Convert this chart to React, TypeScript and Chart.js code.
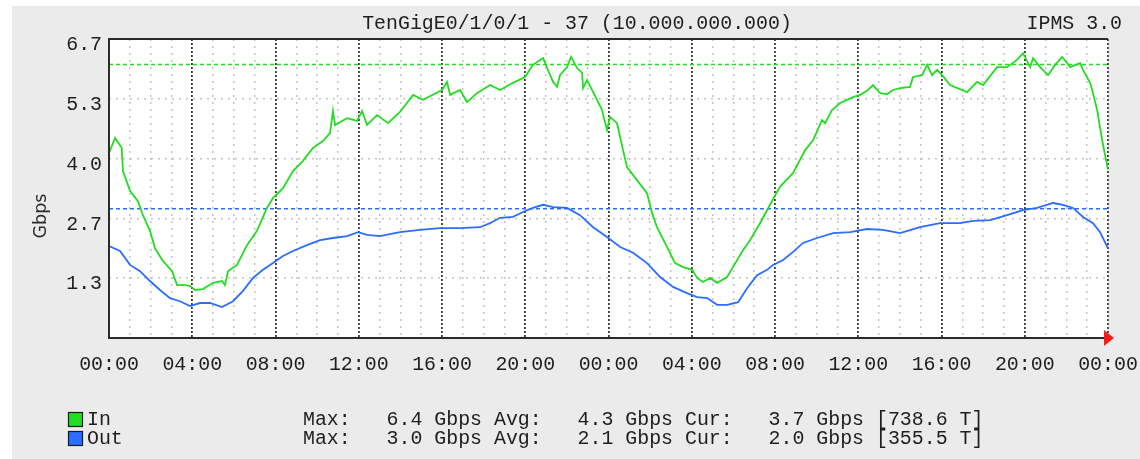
import React, { useEffect, useRef } from "react";
import { Chart, registerables } from "chart.js";

Chart.register(...registerables);

// ---- data (hours since first 00:00, Gbps) ----
const inHours = [
  0.0, 0.29, 0.61, 0.67, 1.01, 1.39, 1.63, 1.97, 2.21, 2.59, 3.03, 3.27, 3.65, 3.89, 4.13, 4.52, 5.0, 5.43, 5.57, 5.72,
  6.15, 6.63, 7.11, 7.59, 7.88, 8.36, 8.84, 9.32, 9.8, 10.28, 10.62, 10.76, 10.86, 11.44, 11.92, 12.16, 12.4, 12.88, 13.41, 13.98,
  14.61, 15.09, 16.0, 16.24, 16.39, 16.87, 17.2, 17.68, 18.31, 18.79, 19.41, 19.99, 20.37, 20.71, 20.86, 21.05, 21.34, 21.53, 21.67, 22.01,
  22.2, 22.49, 22.73, 22.78, 22.97, 23.45, 23.69, 23.93, 24.07, 24.41, 24.7, 24.89, 25.37, 25.85, 26.09, 26.33, 26.81, 27.2, 27.58, 28.02,
  28.26, 28.54, 28.88, 29.22, 29.7, 29.98, 30.47, 30.8, 31.28, 31.91, 32.24, 32.87, 33.45, 33.83, 34.26, 34.41, 34.74, 35.13, 35.75, 36.09,
  36.47, 36.71, 37.05, 37.39, 37.67, 38.01, 38.49, 38.63, 39.07, 39.31, 39.55, 39.79, 40.03, 40.41, 40.89, 41.23, 41.71, 42.0, 42.67, 43.15,
  43.63, 43.92, 44.26, 44.4, 44.74, 45.12, 45.46, 45.8, 46.18, 46.66, 46.8, 47.14, 47.28, 47.48, 47.72, 48.0,
];
const inValues = [
  4.12, 4.46, 4.24, 3.72, 3.28, 3.05, 2.74, 2.39, 2.0, 1.72, 1.49, 1.18, 1.18, 1.16, 1.07, 1.09, 1.23, 1.27, 1.18, 1.49,
  1.63, 2.07, 2.39, 2.9, 3.12, 3.34, 3.72, 3.95, 4.24, 4.39, 4.57, 5.06, 4.75, 4.9, 4.84, 5.06, 4.75, 4.97, 4.79, 5.04,
  5.42, 5.31, 5.53, 5.71, 5.42, 5.53, 5.26, 5.46, 5.64, 5.53, 5.69, 5.82, 6.09, 6.2, 6.24, 6.02, 5.71, 5.6, 5.86, 6.04,
  6.27, 6.02, 5.91, 5.57, 5.75, 5.31, 5.08, 4.64, 4.93, 4.79, 4.19, 3.81, 3.52, 3.23, 2.79, 2.47, 2.03, 1.67, 1.58, 1.52,
  1.34, 1.25, 1.34, 1.23, 1.36, 1.58, 1.96, 2.18, 2.56, 3.1, 3.37, 3.68, 4.19, 4.41, 4.86, 4.79, 5.08, 5.24, 5.37, 5.42,
  5.53, 5.64, 5.46, 5.44, 5.53, 5.57, 5.6, 5.82, 5.86, 6.09, 5.86, 5.98, 5.86, 5.64, 5.55, 5.48, 5.71, 5.64, 6.04, 6.04,
  6.2, 6.35, 6.04, 6.24, 6.04, 5.86, 6.09, 6.27, 6.04, 6.13, 5.98, 5.69, 5.46, 5.08, 4.41, 3.75,
];
const outHours = [
  0.0, 0.53, 1.01, 1.49, 1.97, 2.45, 2.93, 3.41, 3.89, 4.37, 4.85, 5.43, 5.96, 6.44, 6.92, 7.4, 7.88, 8.36, 8.84, 9.51,
  10.14, 10.76, 11.44, 11.97, 12.4, 13.02, 13.98, 14.94, 15.91, 16.87, 17.83, 18.31, 18.79, 19.41, 19.89, 20.37, 20.86, 21.34, 22.01, 22.63,
  23.26, 23.93, 24.56, 25.18, 25.85, 26.48, 27.1, 27.77, 28.26, 28.74, 29.22, 29.7, 30.23, 30.66, 31.14, 31.62, 31.91, 32.39, 32.87, 33.35,
  34.02, 34.79, 35.61, 36.42, 37.19, 38.01, 38.97, 39.93, 40.89, 41.52, 42.34, 43.15, 43.92, 44.59, 45.36, 45.84, 46.32, 46.8, 47.28, 47.62,
  48.0,
];
const outValues = [
  2.05, 1.94, 1.63, 1.49, 1.27, 1.07, 0.89, 0.82, 0.71, 0.78, 0.78, 0.69, 0.82, 1.05, 1.34, 1.52, 1.67, 1.83, 1.94, 2.07,
  2.18, 2.23, 2.27, 2.36, 2.3, 2.27, 2.36, 2.41, 2.45, 2.45, 2.47, 2.56, 2.68, 2.7, 2.81, 2.9, 2.97, 2.92, 2.9, 2.74,
  2.47, 2.25, 2.03, 1.9, 1.67, 1.36, 1.14, 1.0, 0.91, 0.89, 0.74, 0.74, 0.8, 1.11, 1.4, 1.52, 1.63, 1.74, 1.92, 2.12,
  2.23, 2.34, 2.36, 2.43, 2.41, 2.34, 2.47, 2.56, 2.56, 2.61, 2.63, 2.74, 2.85, 2.9, 3.01, 2.97, 2.9, 2.7, 2.56, 2.36,
  2.0,
];
const inThreshold = 6.1;
const outThreshold = 2.88;

const xMin = 0;
const xMax = 48;
const xTickLabels = [
  "00:00", "04:00", "08:00", "12:00", "16:00", "20:00", "00:00", "04:00", "08:00", "12:00", "16:00", "20:00", "00:00",
];
const yMax = 6.667;
const yTickValues = [1.333, 2.667, 4.0, 5.333, 6.667];
const yTickLabels = ["1.3", "2.7", "4.0", "5.3", "6.7"];

const titleText = "TenGigE0/1/0/1 - 37 (10.000.000.000)";
const brandText = "IPMS 3.0";
const yAxisTitle = "Gbps";
const legendNames = ["In", "Out"];
const legendStats = [
  "Max:   6.4 Gbps Avg:   4.3 Gbps Cur:   3.7 Gbps [738.6 T]",
  "Max:   3.0 Gbps Avg:   2.1 Gbps Cur:   2.0 Gbps [355.5 T]",
];

const IN_COLOR = "#22dd22";
const OUT_COLOR = "#2a6dff";
const MONO = '"Liberation Mono", "DejaVu Sans Mono", monospace';
const TEXT = "#1e1e1e";

const W = 1140;
const H = 459;
const PLOT_LEFT = 109;
const PLOT_TOP = 39;
const PLOT_RIGHT = 1108;
const PLOT_BOTTOM = 338;

const decorPlugin = {
  id: "decor",
  beforeDraw(chart: any) {
    const { ctx, chartArea: a } = chart;
    ctx.save();
    ctx.fillStyle = "#ffffff";
    ctx.fillRect(0, 0, W, H);
    ctx.fillStyle = "#ebebeb";
    ctx.fillRect(12, 6, W - 12, H - 6);
    ctx.fillStyle = "#ffffff";
    ctx.fillRect(a.left, a.top, a.right - a.left, a.bottom - a.top);
    ctx.restore();
  },
  afterDraw(chart: any) {
    const { ctx, chartArea: a } = chart;
    ctx.save();
    // frame
    ctx.strokeStyle = "#2b2b2b";
    ctx.lineWidth = 2;
    ctx.setLineDash([]);
    ctx.beginPath();
    ctx.moveTo(a.right, a.top);
    ctx.lineTo(a.left, a.top);
    ctx.lineTo(a.left, a.bottom);
    ctx.lineTo(a.right, a.bottom);
    ctx.stroke();
    // arrow
    ctx.fillStyle = "#ff1a1a";
    ctx.beginPath();
    ctx.moveTo(a.right - 4, a.bottom - 8);
    ctx.lineTo(a.right + 6, a.bottom);
    ctx.lineTo(a.right - 4, a.bottom + 8);
    ctx.closePath();
    ctx.fill();
    // title texts
    ctx.fillStyle = TEXT;
    ctx.font = `19.9px ${MONO}`;
    ctx.textBaseline = "alphabetic";
    ctx.textAlign = "center";
    ctx.fillText(titleText, 577, 29);
    ctx.textAlign = "right";
    ctx.fillText(brandText, 1122, 29);
    // y axis title
    ctx.save();
    ctx.translate(41, 216);
    ctx.rotate(-Math.PI / 2);
    ctx.textAlign = "center";
    ctx.textBaseline = "middle";
    ctx.font = '17.5px "DejaVu Sans", sans-serif';
    ctx.fillStyle = "#2a2a2a";
    ctx.fillText(yAxisTitle, 0, 0);
    ctx.restore();
    // legend
    const colors = [IN_COLOR, OUT_COLOR];
    const baselines = [425, 444];
    ctx.textAlign = "left";
    ctx.textBaseline = "alphabetic";
    ctx.font = `19.9px ${MONO}`;
    for (let i = 0; i < legendNames.length; i++) {
      const b = baselines[i];
      ctx.fillStyle = colors[i];
      ctx.fillRect(68, b - 13, 15, 15);
      ctx.strokeStyle = "#1a1a1a";
      ctx.lineWidth = 1.2;
      ctx.strokeRect(68.5, b - 12.5, 14, 14);
      ctx.fillStyle = TEXT;
      ctx.fillText(legendNames[i], 87, b);
      ctx.fillText(legendStats[i], 303, b);
    }
    ctx.restore();
  },
};

export default function App() {
  const ref = useRef<HTMLCanvasElement | null>(null);

  useEffect(() => {
    if (!ref.current) return;
    const inData = inHours.map((h, i) => ({ x: h, y: inValues[i] }));
    const outData = outHours.map((h, i) => ({ x: h, y: outValues[i] }));
    const chart = new Chart(ref.current, {
      type: "line",
      data: {
        datasets: [
          {
            label: "In",
            data: inData,
            borderColor: IN_COLOR,
            borderWidth: 1.8,
            pointRadius: 0,
            tension: 0,
            fill: false,
          },
          {
            label: "Out",
            data: outData,
            borderColor: OUT_COLOR,
            borderWidth: 1.8,
            pointRadius: 0,
            tension: 0,
            fill: false,
          },
          {
            label: "In ref",
            data: [
              { x: xMin, y: inThreshold },
              { x: xMax, y: inThreshold },
            ],
            borderColor: IN_COLOR,
            borderWidth: 1.5,
            borderDash: [4, 3],
            pointRadius: 0,
            fill: false,
          },
          {
            label: "Out ref",
            data: [
              { x: xMin, y: outThreshold },
              { x: xMax, y: outThreshold },
            ],
            borderColor: OUT_COLOR,
            borderWidth: 1.5,
            borderDash: [4, 3],
            pointRadius: 0,
            fill: false,
          },
        ],
      },
      options: {
        animation: false,
        responsive: false,
        events: [],
        layout: { padding: { left: 0, top: PLOT_TOP, right: W - PLOT_RIGHT, bottom: 0 } },
        plugins: { legend: { display: false }, title: { display: false }, tooltip: { enabled: false } },
        scales: {
          x: {
            type: "linear",
            position: "bottom",
            min: xMin,
            max: xMax,
            afterFit: (s: any) => {
              s.height = H - PLOT_BOTTOM;
              s.paddingLeft = 0;
              s.paddingRight = 0;
            },
            ticks: {
              stepSize: 4,
              autoSkip: false,
              maxRotation: 0,
              padding: 15,
              color: TEXT,
              font: { family: MONO, size: 19.9 },
              callback: (_v: any, i: number) => xTickLabels[i],
            },
            grid: { color: "#3a3a3a", lineWidth: 1.8, drawTicks: false },
            border: { display: false, dash: [2, 2] },
          },
          xMinor: {
            type: "linear",
            position: "bottom",
            min: xMin,
            max: xMax,
            afterFit: (s: any) => {
              s.height = 0;
              s.paddingLeft = 0;
              s.paddingRight = 0;
            },
            ticks: { stepSize: 1, display: false, autoSkip: false },
            grid: {
              color: (c: any) => (c.tick && c.tick.value % 4 === 0 ? "rgba(0,0,0,0)" : "#c4c4c4"),
              lineWidth: 1.5,
              drawTicks: false,
            },
            border: { display: false, dash: [2, 5] },
          },
          y: {
            type: "linear",
            min: 0,
            max: yMax,
            afterFit: (s: any) => {
              s.width = PLOT_LEFT;
              s.paddingTop = 0;
              s.paddingBottom = 0;
            },
            afterBuildTicks: (s: any) => {
              s.ticks = yTickValues.map((v) => ({ value: v }));
            },
            ticks: {
              padding: 7,
              labelOffset: 6,
              color: TEXT,
              font: { family: MONO, size: 19.9 },
              callback: (_v: any, i: number) => yTickLabels[i],
            },
            grid: {
              color: (c: any) => (c.tick && c.tick.value >= yMax - 0.01 ? "rgba(0,0,0,0)" : "#c4c4c4"),
              lineWidth: 1.5,
              drawTicks: false,
            },
            border: { display: false, dash: [2, 5] },
          },
        },
      },
      plugins: [decorPlugin],
    });
    return () => chart.destroy();
  }, []);

  return (
    <div style={{ position: "fixed", left: 0, top: 0, width: W, height: H }}>
      <canvas ref={ref} width={W} height={H} style={{ display: "block", width: W, height: H }} />
    </div>
  );
}
